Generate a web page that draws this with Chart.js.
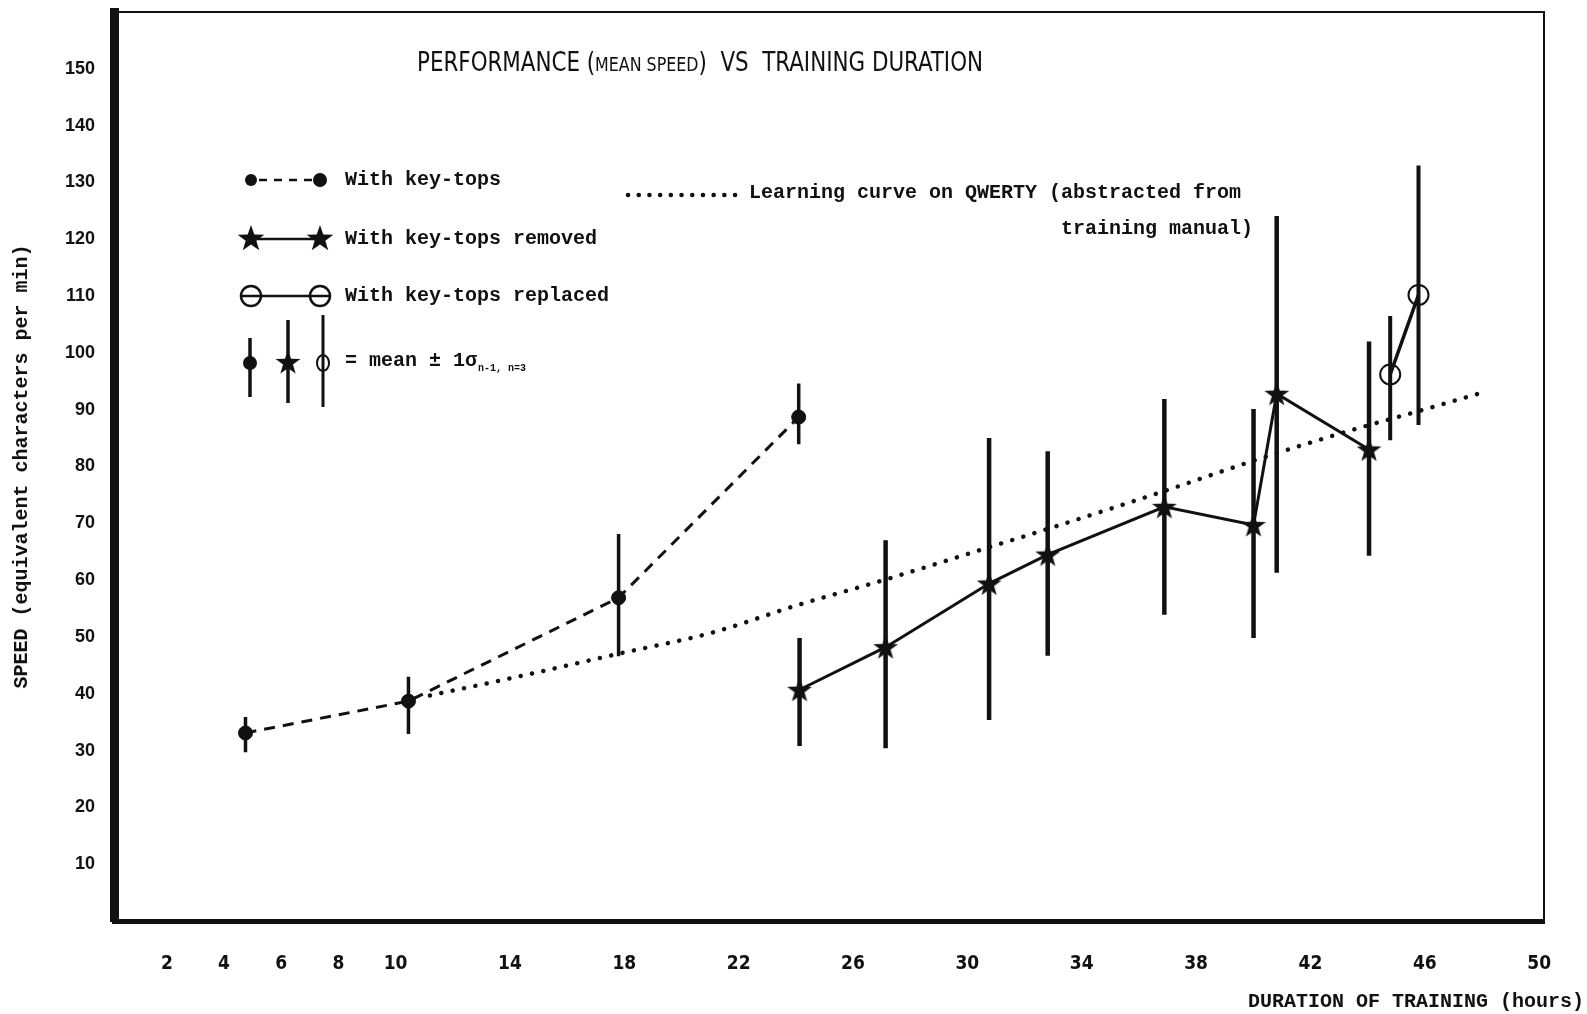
<!DOCTYPE html>
<html>
<head>
<meta charset="utf-8">
<script src="https://cdn.jsdelivr.net/npm/chart.js@4/dist/chart.umd.min.js"></script>
<style>
  html, body { margin: 0; padding: 0; background: #fff; }
  #wrap { width: 1587px; height: 1014px; position: relative; }
</style>
</head>
<body>
<div id="wrap"><canvas id="chart"></canvas></div>
<script>
// ---- Data: training duration (hours) vs mean speed (equivalent characters per min) ----
const xTickValues = [2, 4, 6, 8, 10, 14, 18, 22, 26, 30, 34, 38, 42, 46, 50];
const yTickValues = [10, 20, 30, 40, 50, 60, 70, 80, 90, 100, 110, 120, 130, 140, 150];

// With key-tops
const keyTopsHours = [4.75, 10.45, 17.8, 24.1];
const keyTopsSpeed = [33.1, 38.7, 56.9, 88.7];
const keyTopsLow   = [29.7, 32.9, 46.6, 83.9];
const keyTopsHigh  = [35.9, 43.0, 68.1, 94.6];

// With key-tops removed
const removedHours = [24.13, 27.14, 30.76, 32.81, 36.89, 40.01, 40.82, 44.05];
const removedSpeed = [40.7, 48.2, 59.4, 64.5, 72.9, 69.7, 92.8, 83.0];
const removedLow   = [30.8, 30.4, 35.4, 46.7, 53.9, 49.8, 61.3, 64.3];
const removedHigh  = [49.8, 67.0, 85.0, 82.7, 91.9, 90.1, 124.1, 102.0];

// With key-tops replaced
const replacedHours = [44.79, 45.78];
const replacedSpeed = [96.2, 110.2];
const replacedLow   = [84.6, 87.3];
const replacedHigh  = [106.5, 133.0];

// Learning curve on QWERTY (abstracted from training manual)
const qwertyHours = [11.2, 14.0, 17.85, 21.1, 24.0, 27.2, 30.7, 32.8, 36.9, 40.0, 43.3, 45.75, 48.2];
const qwertySpeed = [39.7, 42.7, 47.1, 50.8, 55.5, 60.2, 65.7, 69.0, 75.7, 81.0, 86.2, 89.7, 93.3];

// ---- Fonts ----
const MONO = '"Liberation Mono", "DejaVu Sans Mono", monospace';
const NARROW = '"Liberation Sans Narrow", "DejaVu Sans Condensed", "Liberation Sans", sans-serif';
const SANS = '"Liberation Sans", Arial, sans-serif';
const INK = '#111';

// ---- Helpers ----
function points(xs, ys) {
  return xs.map((x, i) => ({ x: x, y: ys[i] }));
}
// vertical mean +/- 1 sd segments, separated by gaps
function errorSegments(xs, lo, hi) {
  const out = [];
  xs.forEach((x, i) => {
    out.push({ x: x, y: lo[i] }, { x: x, y: hi[i] }, { x: x, y: null });
  });
  return out;
}
function starPath(ctx, cx, cy, R, r) {
  ctx.beginPath();
  for (let i = 0; i < 10; i++) {
    const a = -Math.PI / 2 + i * Math.PI / 5;
    const rad = i % 2 ? r : R;
    ctx.lineTo(cx + rad * Math.cos(a), cy + rad * Math.sin(a));
  }
  ctx.closePath();
}
function makeStar(size, R, r) {
  const c = document.createElement('canvas');
  c.width = size; c.height = size;
  const g = c.getContext('2d');
  g.fillStyle = INK;
  starPath(g, size / 2, size / 2 + 1, R, r);
  g.fill();
  return c;
}
const starImage = makeStar(28, 13, 5.2);

// ---- Frame (top and right thin rules) ----
const framePlugin = {
  id: 'frame',
  beforeDatasetsDraw(chart) {
    const { ctx, chartArea: a } = chart;
    ctx.save();
    ctx.strokeStyle = INK;
    ctx.lineWidth = 2;
    ctx.beginPath();
    ctx.moveTo(a.left, a.top);
    ctx.lineTo(a.right, a.top);
    ctx.lineTo(a.right, a.bottom);
    ctx.stroke();
    ctx.restore();
  }
};

// ---- Title, key and axis caption ----
const annotationsPlugin = {
  id: 'annotations',
  afterDraw(chart) {
    const ctx = chart.ctx;
    ctx.save();
    ctx.fillStyle = INK;
    ctx.strokeStyle = INK;

    // Title with small capitals for "MEAN SPEED"
    const big = '27px ' + NARROW;
    const small = '20px ' + NARROW;
    const parts = [
      ['PERFORMANCE (', big],
      ['MEAN SPEED', small],
      [') \u00A0VS \u00A0TRAINING DURATION', big]
    ];
    let total = 0;
    parts.forEach(p => { ctx.font = p[1]; total += ctx.measureText(p[0]).width; });
    const targetW = 566;
    ctx.save();
    ctx.translate(417, 71);
    ctx.scale(targetW / total, 1);
    ctx.textBaseline = 'alphabetic';
    ctx.textAlign = 'left';
    let cx = 0;
    parts.forEach(p => {
      ctx.font = p[1];
      ctx.fillText(p[0], cx, 0);
      cx += ctx.measureText(p[0]).width;
    });
    ctx.restore();

    // Key
    const keyFont = 'bold 20px ' + MONO;
    ctx.font = keyFont;
    ctx.textBaseline = 'middle';
    ctx.textAlign = 'left';
    const xL = 251, xR = 320, tx = 345;

    // row 1: dashed with dots
    let y = 180;
    ctx.lineWidth = 2.5;
    ctx.setLineDash([8, 7]);
    ctx.beginPath(); ctx.moveTo(xL + 8, y); ctx.lineTo(xR - 7, y); ctx.stroke();
    ctx.setLineDash([]);
    ctx.beginPath(); ctx.arc(xL, y, 6, 0, Math.PI * 2); ctx.fill();
    ctx.beginPath(); ctx.arc(xR, y, 7, 0, Math.PI * 2); ctx.fill();
    ctx.fillText('With key-tops', tx, y);

    // row 2: solid with stars
    y = 239;
    ctx.lineWidth = 2.5;
    ctx.beginPath(); ctx.moveTo(xL, y); ctx.lineTo(xR, y); ctx.stroke();
    starPath(ctx, xL, y, 14, 5.6); ctx.fill();
    starPath(ctx, xR, y, 14, 5.6); ctx.fill();
    ctx.fillText('With key-tops removed', tx, y);

    // row 3: solid through open circles
    y = 296;
    ctx.lineWidth = 2.5;
    ctx.beginPath(); ctx.moveTo(xL - 10, y); ctx.lineTo(xR + 10, y); ctx.stroke();
    ctx.beginPath(); ctx.arc(xL, y, 10, 0, Math.PI * 2); ctx.stroke();
    ctx.beginPath(); ctx.arc(xR, y, 10, 0, Math.PI * 2); ctx.stroke();
    ctx.fillText('With key-tops replaced', tx, y);

    // row 4: error bar key
    y = 363;
    ctx.lineWidth = 3.5;
    ctx.beginPath(); ctx.moveTo(250, 338); ctx.lineTo(250, 397); ctx.stroke();
    ctx.beginPath(); ctx.arc(250, y, 7, 0, Math.PI * 2); ctx.fill();
    ctx.lineWidth = 3.5;
    ctx.beginPath(); ctx.moveTo(288, 320); ctx.lineTo(288, 403); ctx.stroke();
    starPath(ctx, 288, y, 13, 5.2); ctx.fill();
    ctx.lineWidth = 3;
    ctx.beginPath(); ctx.moveTo(323, 315); ctx.lineTo(323, 407); ctx.stroke();
    ctx.lineWidth = 2;
    ctx.beginPath(); ctx.ellipse(323, y, 6, 8, 0, 0, Math.PI * 2); ctx.stroke();
    ctx.font = keyFont;
    const eq = '= mean \u00B1 1\u03C3';
    ctx.fillText(eq, tx, y - 2);
    const eqW = ctx.measureText(eq).width;
    ctx.font = 'bold 10px ' + MONO;
    ctx.fillText('n-1, n=3', tx + eqW + 1, y + 5);

    // learning curve key
    y = 195;
    ctx.lineWidth = 4.5;
    ctx.lineCap = 'round';
    ctx.setLineDash([0.1, 10.6]);
    ctx.beginPath(); ctx.moveTo(628, y); ctx.lineTo(741, y); ctx.stroke();
    ctx.setLineDash([]);
    ctx.lineCap = 'butt';
    ctx.font = keyFont;
    ctx.textAlign = 'left';
    ctx.fillText('Learning curve on QWERTY (abstracted from', 749, 193);
    ctx.textAlign = 'right';
    ctx.fillText('training manual)', 1253, 229);

    // x-axis caption
    ctx.font = keyFont;
    ctx.textAlign = 'right';
    ctx.fillText('DURATION OF TRAINING (hours)', 1584, 1002);

    ctx.restore();
  }
};

const errorStyle = {
  type: 'line',
  borderColor: INK,
  pointRadius: 0,
  spanGaps: false,
  fill: false,
  order: 5
};

const chart = new Chart(document.getElementById('chart'), {
  type: 'line',
  data: {
    datasets: [
      {
        label: 'With key-tops',
        data: points(keyTopsHours, keyTopsSpeed),
        borderColor: INK,
        borderWidth: 3,
        borderDash: [11, 8],
        pointStyle: 'circle',
        pointRadius: 7,
        pointBackgroundColor: INK,
        pointBorderColor: INK,
        pointBorderWidth: 1,
        order: 1
      },
      {
        label: 'With key-tops removed',
        data: points(removedHours, removedSpeed),
        borderColor: INK,
        borderWidth: 3,
        pointStyle: starImage,
        order: 1
      },
      {
        label: 'With key-tops replaced',
        data: points(replacedHours, replacedSpeed),
        borderColor: INK,
        borderWidth: 3.5,
        pointStyle: 'circle',
        pointRadius: 10,
        pointBackgroundColor: 'rgba(0,0,0,0)',
        pointBorderColor: INK,
        pointBorderWidth: 2,
        order: 1
      },
      {
        label: 'Learning curve on QWERTY',
        data: points(qwertyHours, qwertySpeed),
        borderColor: INK,
        borderWidth: 4.5,
        borderDash: [0.1, 11.5],
        borderCapStyle: 'round',
        pointRadius: 0,
        cubicInterpolationMode: 'monotone',
        order: 3
      },
      Object.assign({ label: 'sd key-tops', data: errorSegments(keyTopsHours, keyTopsLow, keyTopsHigh), borderWidth: 3.5 }, errorStyle),
      Object.assign({ label: 'sd removed', data: errorSegments(removedHours, removedLow, removedHigh), borderWidth: 4.5 }, errorStyle),
      Object.assign({ label: 'sd replaced', data: errorSegments(replacedHours, replacedLow, replacedHigh), borderWidth: 4 }, errorStyle)
    ]
  },
  options: {
    responsive: true,
    maintainAspectRatio: false,
    devicePixelRatio: 1,
    animation: false,
    events: [],
    layout: { padding: { left: 0, top: 10, right: 43, bottom: 0 } },
    plugins: {
      legend: { display: false },
      tooltip: { enabled: false },
      title: { display: false }
    },
    scales: {
      x: {
        type: 'linear',
        position: 'bottom',
        min: 0.15,
        max: 50.17,
        grid: { display: false, drawTicks: false },
        border: { display: true, color: INK, width: 5 },
        ticks: {
          color: INK,
          font: { family: NARROW, size: 19, weight: 'bold' },
          padding: 32,
          autoSkip: false,
          maxRotation: 0,
          callback: v => String(v)
        },
        afterBuildTicks: s => { s.ticks = xTickValues.map(v => ({ value: v })); },
        afterFit: s => { s.height = 93; s.paddingLeft = 0; s.paddingRight = 0; }
      },
      y: {
        type: 'linear',
        position: 'left',
        min: 0,
        max: 160,
        grid: { display: false, drawTicks: false },
        border: { display: true, color: INK, width: 9 },
        ticks: {
          color: INK,
          font: { family: SANS, size: 18, weight: 'bold' },
          padding: 19,
          autoSkip: false,
          callback: v => String(v)
        },
        title: {
          display: true,
          text: 'SPEED (equivalent characters per min)',
          color: INK,
          font: { family: MONO, size: 20, weight: 'bold' },
          padding: { top: 10, bottom: 0 }
        },
        afterBuildTicks: s => { s.ticks = yTickValues.map(v => ({ value: v })); },
        afterFit: s => { s.width = 114; s.paddingTop = 0; s.paddingBottom = 0; }
      }
    }
  },
  plugins: [framePlugin, annotationsPlugin]
});
</script>
</body>
</html>
